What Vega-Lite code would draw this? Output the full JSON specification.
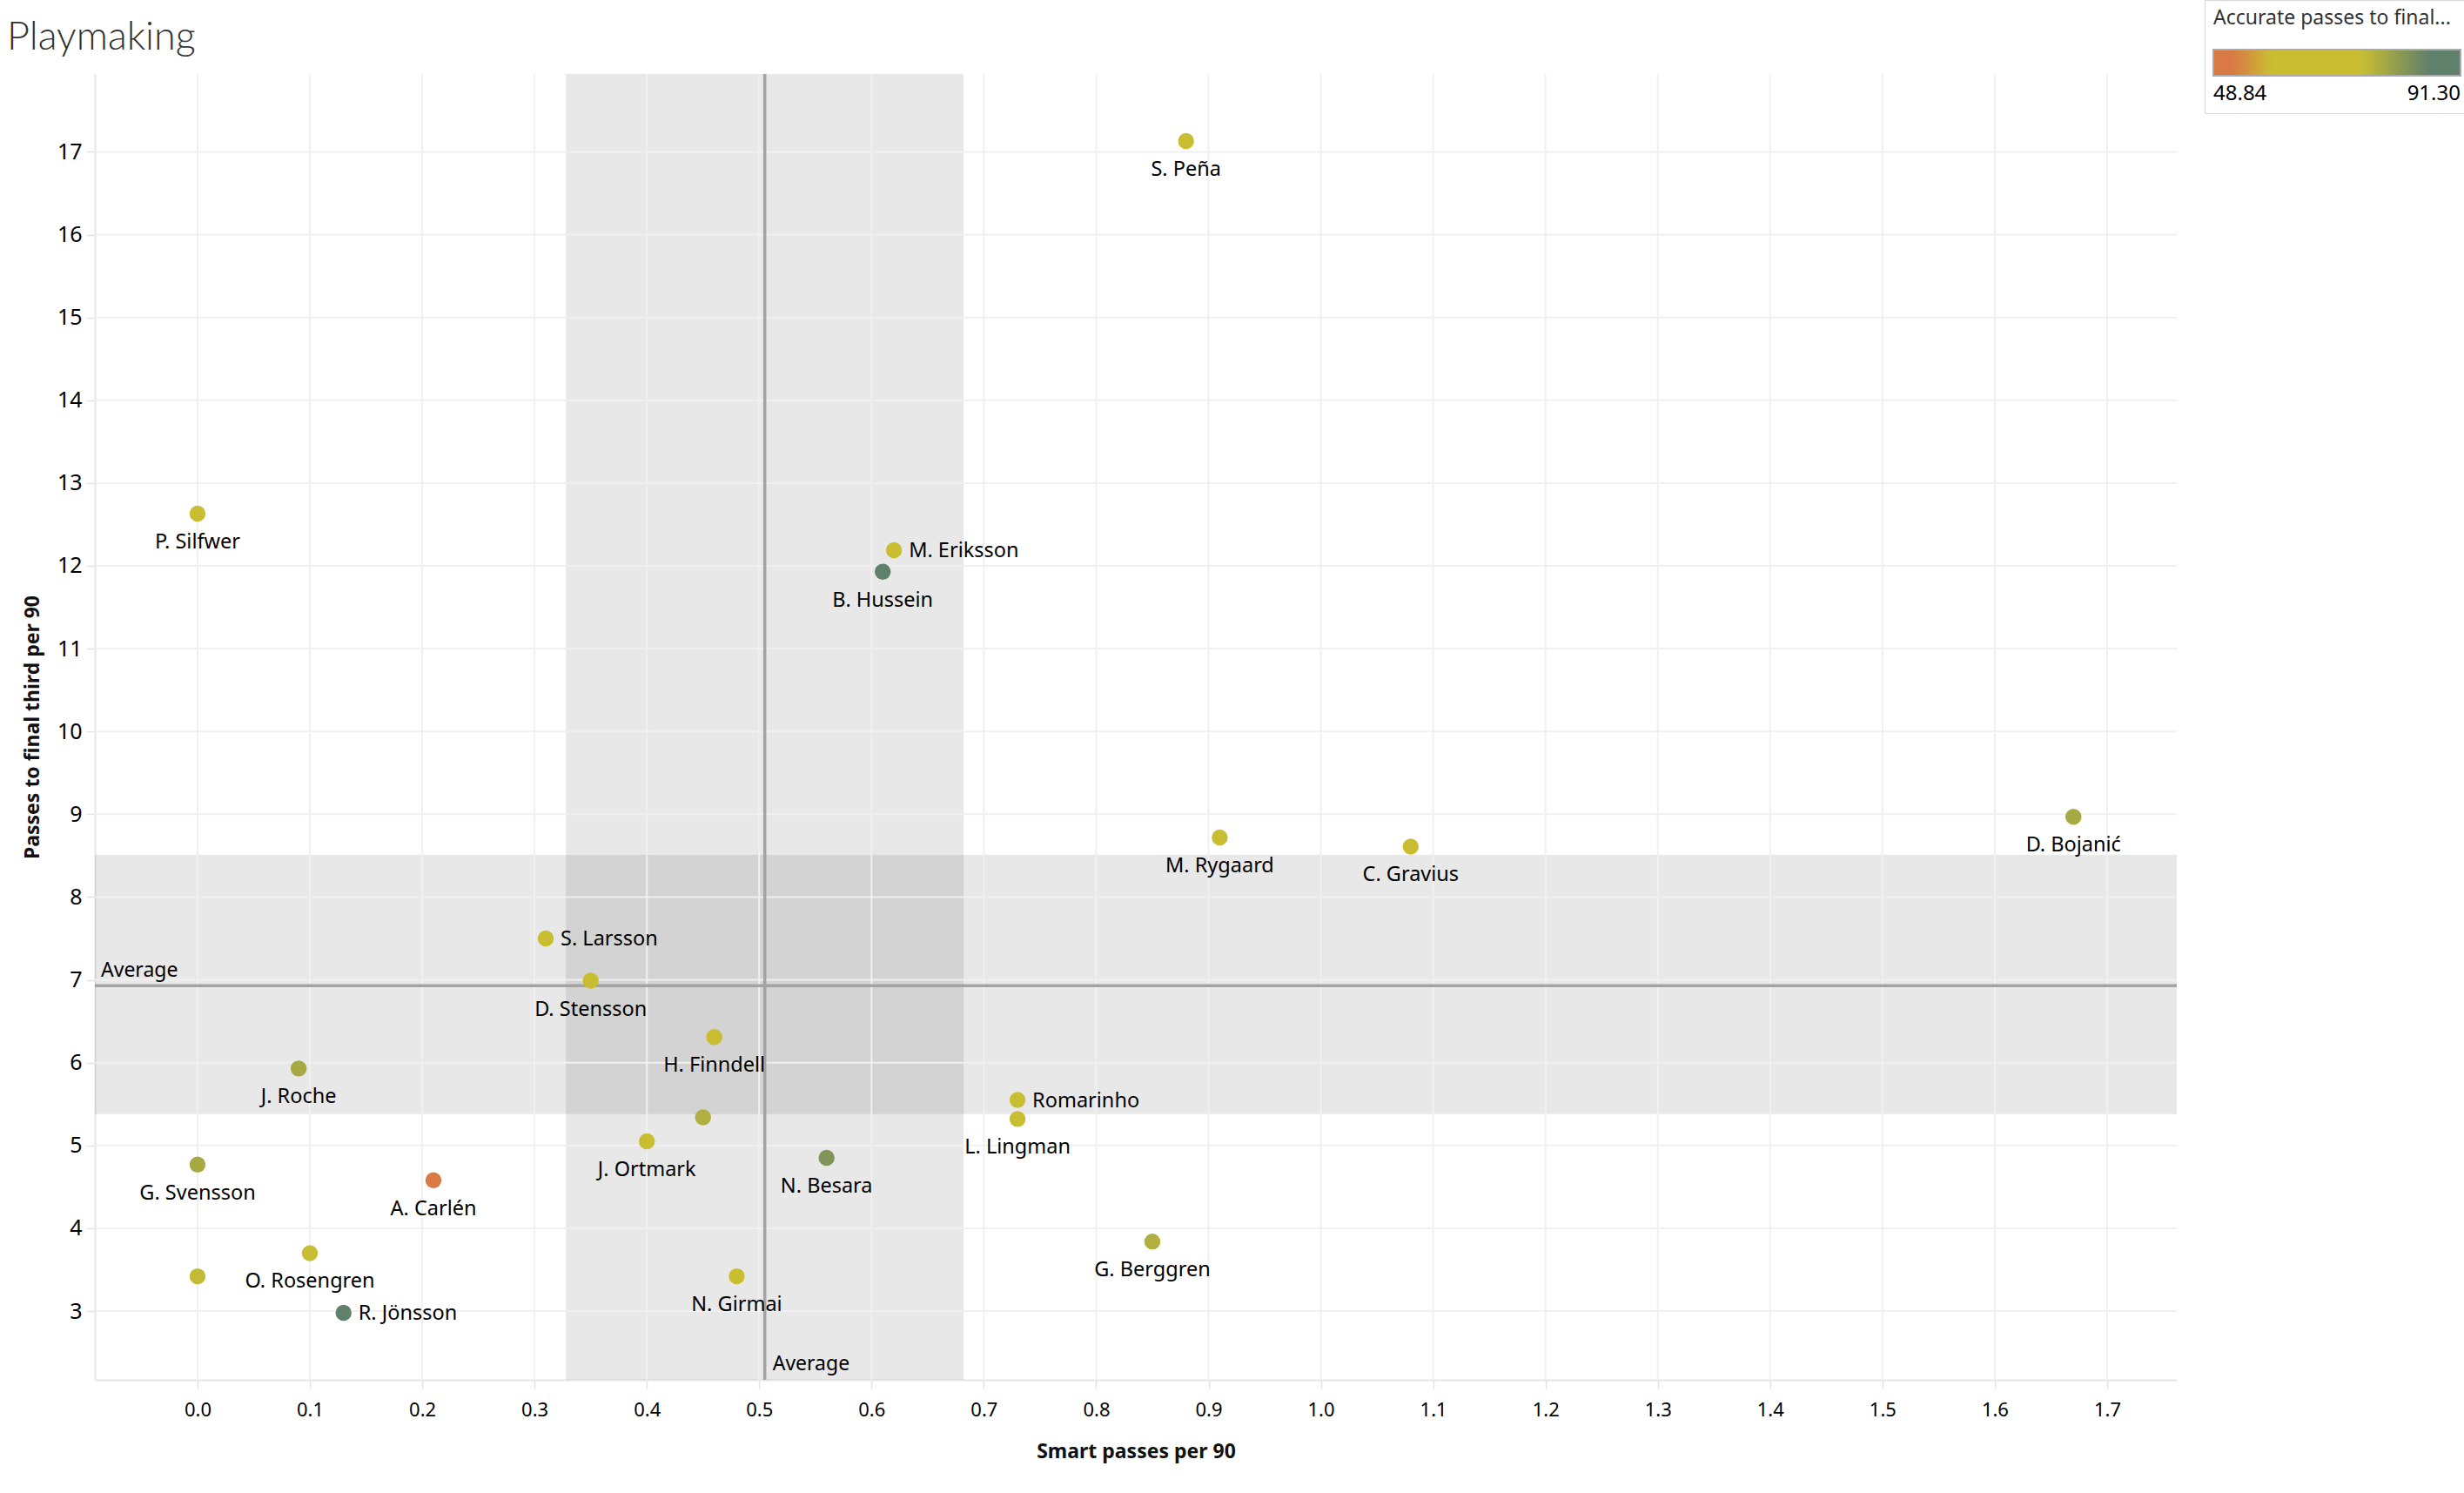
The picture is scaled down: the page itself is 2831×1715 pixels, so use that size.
{
  "$schema": "https://vega.github.io/schema/vega-lite/v6.json",
  "autosize": {"type": "none"},
  "width": 2392,
  "height": 1500,
  "padding": {"left": 109, "top": 85, "right": 330, "bottom": 130},
  "background": "#ffffff",
  "title": {
    "text": "Playmaking",
    "anchor": "start",
    "frame": "group",
    "dx": -101,
    "dy": 86,
    "offset": 20,
    "fontSize": 45,
    "font": "Lato",
    "fontWeight": 300,
    "color": "#333333"
  },
  "datasets": {
    "players": [
      {"player": "S. Peña", "smart_passes": 0.88, "final_third_passes": 17.13, "accuracy": 68},
      {"player": "P. Silfwer", "smart_passes": 0.0, "final_third_passes": 12.63, "accuracy": 67},
      {"player": "M.  Eriksson", "smart_passes": 0.62, "final_third_passes": 12.19, "accuracy": 68},
      {"player": "B. Hussein", "smart_passes": 0.61, "final_third_passes": 11.93, "accuracy": 91.3},
      {"player": "M. Rygaard", "smart_passes": 0.91, "final_third_passes": 8.72, "accuracy": 66},
      {"player": "C. Gravius", "smart_passes": 1.08, "final_third_passes": 8.61, "accuracy": 66},
      {"player": "D. Bojanić", "smart_passes": 1.67, "final_third_passes": 8.97, "accuracy": 78},
      {"player": "S. Larsson", "smart_passes": 0.31, "final_third_passes": 7.5, "accuracy": 66},
      {"player": "D. Stensson", "smart_passes": 0.35, "final_third_passes": 6.99, "accuracy": 70},
      {"player": "H. Finndell", "smart_passes": 0.46, "final_third_passes": 6.31, "accuracy": 67},
      {"player": "J. Roche", "smart_passes": 0.09, "final_third_passes": 5.93, "accuracy": 78},
      {"player": "Romarinho", "smart_passes": 0.73, "final_third_passes": 5.55, "accuracy": 67},
      {"player": "L. Lingman", "smart_passes": 0.73, "final_third_passes": 5.32, "accuracy": 67},
      {"player": "", "smart_passes": 0.45, "final_third_passes": 5.34, "accuracy": 77},
      {"player": "J. Ortmark", "smart_passes": 0.4, "final_third_passes": 5.05, "accuracy": 66},
      {"player": "N. Besara", "smart_passes": 0.56, "final_third_passes": 4.85, "accuracy": 82},
      {"player": "G. Svensson", "smart_passes": 0.0, "final_third_passes": 4.77, "accuracy": 78},
      {"player": "A. Carlén", "smart_passes": 0.21, "final_third_passes": 4.58, "accuracy": 48.84},
      {"player": "G. Berggren", "smart_passes": 0.85, "final_third_passes": 3.84, "accuracy": 77},
      {"player": "O. Rosengren", "smart_passes": 0.1, "final_third_passes": 3.7, "accuracy": 66},
      {"player": "", "smart_passes": 0.0, "final_third_passes": 3.42, "accuracy": 75},
      {"player": "N. Girmai", "smart_passes": 0.48, "final_third_passes": 3.42, "accuracy": 67},
      {"player": "R. Jönsson", "smart_passes": 0.13, "final_third_passes": 2.98, "accuracy": 89}
    ],
    "ref": [
      {"axis": "x", "avg": 0.505, "lo": 0.328, "hi": 0.682, "label": "Average"},
      {"axis": "y", "avg": 6.93, "lo": 5.38, "hi": 8.51, "label": "Average"}
    ],
    "xgrid": [
      {"v": 0.0}, {"v": 0.1}, {"v": 0.2}, {"v": 0.3}, {"v": 0.4}, {"v": 0.5},
      {"v": 0.6}, {"v": 0.7}, {"v": 0.8}, {"v": 0.9}, {"v": 1.0}, {"v": 1.1},
      {"v": 1.2}, {"v": 1.3}, {"v": 1.4}, {"v": 1.5}, {"v": 1.6}, {"v": 1.7}
    ],
    "ygrid": [
      {"v": 3}, {"v": 4}, {"v": 5}, {"v": 6}, {"v": 7}, {"v": 8}, {"v": 9}, {"v": 10},
      {"v": 11}, {"v": 12}, {"v": 13}, {"v": 14}, {"v": 15}, {"v": 16}, {"v": 17}
    ]
  },
  "layer": [
    {
      "data": {"name": "ref"},
      "transform": [{"filter": "datum.axis === 'x'"}],
      "mark": {"type": "rect", "fill": "#000000", "fillOpacity": 0.09},
      "encoding": {
        "x": {"field": "lo", "type": "quantitative", "title": "Smart passes per 90", "scale": {"domain": [-0.0914, 1.762], "nice": false, "zero": false}},
        "x2": {"field": "hi"}
      }
    },
    {
      "data": {"name": "ref"},
      "transform": [{"filter": "datum.axis === 'y'"}],
      "mark": {"type": "rect", "fill": "#000000", "fillOpacity": 0.09},
      "encoding": {
        "y": {"field": "lo", "type": "quantitative", "title": "Passes to final third per 90", "scale": {"domain": [2.17, 17.94], "nice": false, "zero": false}},
        "y2": {"field": "hi"}
      }
    },
    {
      "data": {"name": "xgrid"},
      "mark": {"type": "rule", "color": "#f0f0f0", "strokeWidth": 2},
      "encoding": {
        "x": {"field": "v", "type": "quantitative", "title": "Smart passes per 90", "scale": {"domain": [-0.0914, 1.762], "nice": false, "zero": false}}
      }
    },
    {
      "data": {"name": "ygrid"},
      "mark": {"type": "rule", "color": "#f0f0f0", "strokeWidth": 2},
      "encoding": {
        "y": {"field": "v", "type": "quantitative", "title": "Passes to final third per 90", "scale": {"domain": [2.17, 17.94], "nice": false, "zero": false}}
      }
    },
    {
      "data": {"name": "ref"},
      "transform": [{"filter": "datum.axis === 'x'"}],
      "mark": {"type": "rule", "color": "#a3a3a3", "strokeWidth": 3.5},
      "encoding": {
        "x": {"field": "avg", "type": "quantitative", "title": "Smart passes per 90", "scale": {"domain": [-0.0914, 1.762], "nice": false, "zero": false}}
      }
    },
    {
      "data": {"name": "ref"},
      "transform": [{"filter": "datum.axis === 'y'"}],
      "mark": {"type": "rule", "color": "#a3a3a3", "strokeWidth": 3.5},
      "encoding": {
        "y": {"field": "avg", "type": "quantitative", "title": "Passes to final third per 90", "scale": {"domain": [2.17, 17.94], "nice": false, "zero": false}}
      }
    },
    {
      "data": {"name": "ref"},
      "transform": [{"filter": "datum.axis === 'x'"}],
      "mark": {"type": "text", "align": "left", "baseline": "alphabetic", "dx": 9, "dy": -11, "font": "Noto Sans", "fontSize": 23, "color": "#000000"},
      "encoding": {
        "x": {"field": "avg", "type": "quantitative", "title": "Smart passes per 90", "scale": {"domain": [-0.0914, 1.762], "nice": false, "zero": false}},
        "y": {"value": {"expr": "height"}},
        "text": {"field": "label"}
      }
    },
    {
      "data": {"name": "ref"},
      "transform": [{"filter": "datum.axis === 'y'"}],
      "mark": {"type": "text", "align": "left", "baseline": "alphabetic", "dx": 7, "dy": -10, "font": "Noto Sans", "fontSize": 23, "color": "#000000"},
      "encoding": {
        "x": {"value": 0},
        "y": {"field": "avg", "type": "quantitative", "title": "Passes to final third per 90", "scale": {"domain": [2.17, 17.94], "nice": false, "zero": false}},
        "text": {"field": "label"}
      }
    },
    {
      "data": {"name": "players"},
      "mark": {"type": "circle", "size": 340, "opacity": 1},
      "encoding": {
        "x": {
          "field": "smart_passes", "type": "quantitative",
          "title": "Smart passes per 90",
          "scale": {"domain": [-0.0914, 1.762], "nice": false, "zero": false},
          "axis": {
            "title": "Smart passes per 90",
            "values": [0, 0.1, 0.2, 0.3, 0.4, 0.5, 0.6, 0.7, 0.8, 0.9, 1.0, 1.1, 1.2, 1.3, 1.4, 1.5, 1.6, 1.7],
            "format": ".1f",
            "grid": false,
            "labelFontSize": 22,
            "labelPadding": 14,
            "titleY": 89,
            "titleBaseline": "alphabetic"
          }
        },
        "y": {
          "field": "final_third_passes", "type": "quantitative",
          "title": "Passes to final third per 90",
          "scale": {"domain": [2.17, 17.94], "nice": false, "zero": false},
          "axis": {
            "title": "Passes to final third per 90",
            "values": [3, 4, 5, 6, 7, 8, 9, 10, 11, 12, 13, 14, 15, 16, 17],
            "format": "d",
            "grid": false,
            "labelFontSize": 25,
            "labelPadding": 5,
            "titleX": -65,
            "titleBaseline": "alphabetic"
          }
        },
        "color": {
          "field": "accuracy", "type": "quantitative",
          "scale": {
            "domain": [48.84, 52.66, 58.6, 74.3, 85.8, 91.3],
            "range": ["#d97a45", "#d97a45", "#c9be32", "#c9be32", "#5f806b", "#5f806b"],
            "interpolate": "rgb"
          },
          "legend": {
            "title": "Accurate passes to final...",
            "orient": "none",
            "direction": "horizontal",
            "legendX": 2424,
            "legendY": -85,
            "gradientLength": 284,
            "gradientThickness": 30,
            "values": [48.84, 91.3],
            "format": ".2f",
            "padding": 10,
            "strokeColor": "#d9d9d9",
            "fillColor": "#ffffff",
            "titleFont": "Noto Sans",
            "titleFontSize": 23,
            "titleFontWeight": "normal",
            "titleColor": "#333333",
            "titlePadding": 24,
            "titleLimit": 400,
            "labelFont": "Noto Sans",
            "labelFontSize": 24,
            "labelColor": "#000000",
            "labelOffset": 9,
            "gradientStrokeColor": "#aaaaaa",
            "gradientStrokeWidth": 2
          }
        }
      }
    },
    {
      "data": {"name": "players"},
      "transform": [{"filter": "datum.player !== '' && indexof(['M.  Eriksson', 'S. Larsson', 'Romarinho', 'R. Jönsson'], datum.player) < 0"}],
      "mark": {"type": "text", "align": "center", "baseline": "alphabetic", "dy": 40, "font": "Noto Sans", "fontSize": 23.5, "color": "#000000"},
      "encoding": {
        "x": {"field": "smart_passes", "type": "quantitative", "title": "Smart passes per 90", "scale": {"domain": [-0.0914, 1.762], "nice": false, "zero": false}},
        "y": {"field": "final_third_passes", "type": "quantitative", "title": "Passes to final third per 90", "scale": {"domain": [2.17, 17.94], "nice": false, "zero": false}},
        "text": {"field": "player"}
      }
    },
    {
      "data": {"name": "players"},
      "transform": [{"filter": "indexof(['M.  Eriksson', 'S. Larsson', 'Romarinho', 'R. Jönsson'], datum.player) >= 0"}],
      "mark": {"type": "text", "align": "left", "baseline": "alphabetic", "dx": 17, "dy": 8, "font": "Noto Sans", "fontSize": 23.5, "color": "#000000"},
      "encoding": {
        "x": {"field": "smart_passes", "type": "quantitative", "title": "Smart passes per 90", "scale": {"domain": [-0.0914, 1.762], "nice": false, "zero": false}},
        "y": {"field": "final_third_passes", "type": "quantitative", "title": "Passes to final third per 90", "scale": {"domain": [2.17, 17.94], "nice": false, "zero": false}},
        "text": {"field": "player"}
      }
    }
  ],
  "config": {
    "view": {"stroke": null},
    "font": "Noto Sans",
    "axis": {
      "labelFont": "Noto Sans",
      "labelColor": "#000000",
      "titleFont": "Noto Sans",
      "titleFontSize": 23,
      "titleFontWeight": "bold",
      "titleColor": "#111111",
      "domainColor": "#e6e6e6",
      "domainWidth": 2,
      "tickColor": "#e3e3e3",
      "tickSize": 10,
      "tickWidth": 1.5
    }
  }
}
